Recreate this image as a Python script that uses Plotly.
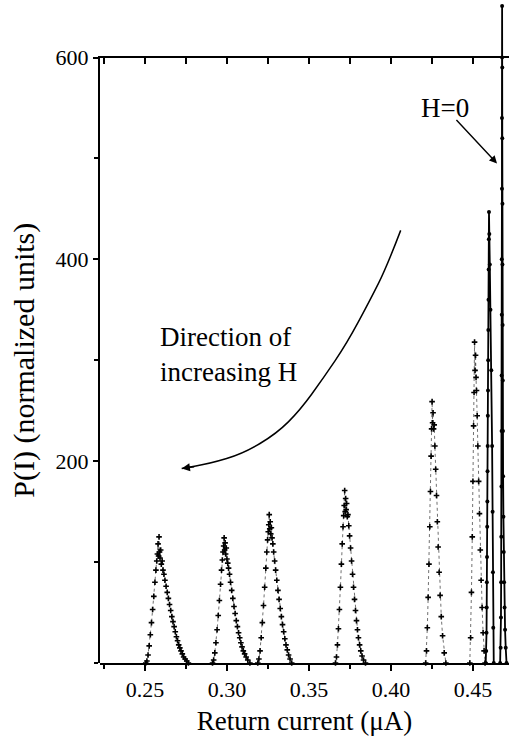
import plotly.graph_objects as go

# ---- data ----
P1_X = [0.2505,0.2512,0.2519,0.2526,0.2533,0.2540,0.2547,0.2554,0.2561,0.2567,0.2572,0.2576,0.2580,0.2583,0.2586,0.2589,0.2592,0.2596,0.2600,0.2605,0.2610,0.2616,0.2622,0.2629,0.2636,0.2643,0.2650,0.2657,0.2664,0.2671,0.2678,0.2685,0.2692,0.2699,0.2706,0.2713,0.2720,0.2728,0.2736,0.2745,0.2755,0.2765]
P1_Y = [0,2,8,17,28,40,53,66,80,92,101,108,118,106,125,110,104,112,98,101,92,88,82,76,70,64,58,52,46,41,36,31,26,22,18,15,12,9,6,4,2,0]

P2_X = [0.2912,0.2919,0.2926,0.2933,0.2940,0.2947,0.2954,0.2961,0.2967,0.2972,0.2976,0.2980,0.2983,0.2986,0.2989,0.2992,0.2996,0.3000,0.3005,0.3010,0.3016,0.3022,0.3029,0.3036,0.3043,0.3050,0.3057,0.3064,0.3071,0.3078,0.3085,0.3092,0.3100,0.3108,0.3117,0.3127,0.3140]
P2_Y = [0,3,10,20,33,47,62,78,92,102,110,116,124,112,119,108,114,103,99,94,88,80,72,64,56,49,42,36,30,25,20,16,12,9,6,3,0]

P3_X = [0.3188,0.3195,0.3202,0.3209,0.3216,0.3223,0.3230,0.3237,0.3243,0.3248,0.3252,0.3255,0.3258,0.3261,0.3264,0.3267,0.3271,0.3275,0.3280,0.3285,0.3291,0.3297,0.3304,0.3311,0.3318,0.3325,0.3332,0.3339,0.3346,0.3353,0.3360,0.3368,0.3376,0.3385,0.3395]
P3_Y = [0,4,12,25,40,57,75,94,110,122,130,137,147,133,140,128,134,124,118,110,101,92,82,72,63,54,46,38,31,24,18,13,8,4,0]

P4_X = [0.3662,0.3668,0.3674,0.3680,0.3686,0.3692,0.3698,0.3703,0.3708,0.3712,0.3715,0.3718,0.3721,0.3724,0.3727,0.3730,0.3734,0.3738,0.3743,0.3748,0.3754,0.3760,0.3766,0.3772,0.3778,0.3784,0.3790,0.3796,0.3802,0.3809,0.3816,0.3824,0.3833,0.3845]
P4_Y = [0,6,18,34,53,75,98,118,135,146,156,171,150,163,152,158,145,147,136,126,114,101,88,75,63,52,42,33,25,18,12,7,3,0]

P5_X = [0.4212,0.4217,0.4222,0.4227,0.4232,0.4237,0.4241,0.4245,0.4248,0.4251,0.4254,0.4257,0.4260,0.4264,0.4268,0.4273,0.4278,0.4283,0.4288,0.4294,0.4300,0.4307,0.4315,0.4325,0.4335]
P5_Y = [0,12,35,65,98,135,170,205,232,259,238,248,232,236,215,192,166,140,115,90,67,46,27,10,0]

P6_X = [0.4481,0.4486,0.4491,0.4496,0.4500,0.4504,0.4507,0.4510,0.4513,0.4516,0.4519,0.4522,0.4526,0.4530,0.4535,0.4540,0.4545,0.4550,0.4556,0.4562,0.4568,0.4574]
P6_Y = [0,25,70,125,180,235,268,318,290,305,283,270,245,215,180,148,112,82,55,30,12,0]

P7_X = [0.4578,0.4581,0.4583,0.4584,0.4585,0.4586,0.4587,0.4588,0.4589,0.4590,0.4591,0.4592,0.4593,0.4594,0.4595,0.4596,0.4597,0.4598,0.4600,0.4603,0.4607,0.4612,0.4617,0.4620,0.4622,0.4624,0.4627]
P7_Y = [0,12,30,55,80,105,135,160,190,215,245,270,300,330,360,390,420,447,425,395,350,290,215,150,90,35,0]

P8_X = [0.4666,0.4669,0.4671,0.4672,0.4673,0.4674,0.4675,0.4675,0.4676,0.4676,0.4677,0.4677,0.4678,0.4678,0.4679,0.4679,0.4680,0.4680,0.4681,0.4682,0.4683,0.4684,0.4686,0.4688,0.4690,0.4693,0.4696,0.4700,0.4705]
P8_Y = [0,15,45,80,125,175,230,285,345,400,470,540,600,651,590,520,455,395,335,280,230,185,145,110,80,55,33,15,0]

# curved "direction" arrow (data units)
ARROW_X = [0.40595,0.39742,0.38723,0.37303,0.35876,0.34455,0.33034,0.30998,0.28967,0.27242]
ARROW_Y = [428.7,392.4,359.4,316.5,282.2,250.5,227.4,207.6,197.7,192.8]

X_TICKS = [0.25, 0.30, 0.35, 0.40, 0.45]
X_TICK_TEXT = ["0.25", "0.30", "0.35", "0.40", "0.45"]
Y_TICKS = [200, 400, 600]
Y_TICK_TEXT = ["200", "400", "600"]
TOP_TICKS = [0.225, 0.25, 0.275, 0.30, 0.325, 0.35, 0.375, 0.40, 0.425, 0.45]

X_RANGE = [0.2226, 0.4720]
Y_MAX_FRAME = 600
Y_MAX_FULL = 655

FONT = "Liberation Serif"

fig = go.Figure()

wide_peaks = [(P1_X, P1_Y), (P2_X, P2_Y), (P3_X, P3_Y), (P4_X, P4_Y), (P5_X, P5_Y), (P6_X, P6_Y)]
for px, py in wide_peaks:
    fig.add_trace(go.Scatter(
        x=px, y=py, mode="lines+markers", xaxis="x", yaxis="y2",
        line=dict(color="#333", width=0.7, dash="dot"),
        marker=dict(symbol="cross-thin", size=4, line=dict(color="black", width=1.6)),
        cliponaxis=False, showlegend=False, hoverinfo="skip"))

for px, py in [(P7_X, P7_Y), (P8_X, P8_Y)]:
    fig.add_trace(go.Scatter(
        x=px, y=py, mode="lines+markers", xaxis="x", yaxis="y2",
        line=dict(color="black", width=1.8),
        marker=dict(symbol="circle", size=4, color="black"),
        cliponaxis=False, showlegend=False, hoverinfo="skip"))

# invisible trace to activate the top axis
fig.add_trace(go.Scatter(x=[0.3], y=[0], xaxis="x2", yaxis="y", mode="markers",
                         marker=dict(opacity=0), showlegend=False, hoverinfo="skip"))

# smooth path through the traced arrow points (quadratic midpoint smoothing)
pts = list(zip(ARROW_X, ARROW_Y))
path = f"M {pts[0][0]},{pts[0][1]}"
for i in range(1, len(pts) - 1):
    mx = (pts[i][0] + pts[i + 1][0]) / 2
    my = (pts[i][1] + pts[i + 1][1]) / 2
    path += f" Q {pts[i][0]},{pts[i][1]} {mx},{my}"
path += f" L {pts[-1][0]},{pts[-1][1]}"
fig.add_shape(type="path", xref="x", yref="y", path=path,
              line=dict(color="black", width=1.5))
fig.add_annotation(x=ARROW_X[-1], y=ARROW_Y[-1], xref="x", yref="y", ax=14, ay=-2, text="",
                   showarrow=True, arrowhead=2, arrowsize=1.1, arrowwidth=1.5, arrowcolor="black")

fig.add_annotation(x=0.2580, y=306, xref="x", yref="y", xanchor="left", yanchor="middle",
                   text="Direction of<br>increasing H", showarrow=False, align="left",
                   font=dict(family=FONT, size=27, color="black"))

fig.add_annotation(x=0.4330, y=550, xref="x", yref="y", text="H=0", showarrow=False,
                   font=dict(family=FONT, size=27, color="black"))
fig.add_annotation(x=0.4647, y=495, xref="x", yref="y", ax=-42, ay=-45, text="",
                   showarrow=True, arrowhead=2, arrowsize=1.1, arrowwidth=1.4, arrowcolor="black")

fig.update_layout(
    width=509, height=736,
    margin=dict(l=100, r=0, t=2, b=73, autoexpand=False),
    paper_bgcolor="white", plot_bgcolor="rgba(0,0,0,0)",
    font=dict(family=FONT, color="black"),
    xaxis=dict(range=X_RANGE, anchor="y", domain=[0, 1], automargin=False,
               showline=True, linecolor="black", linewidth=2,
               ticks="outside", ticklen=6, tickwidth=2, tickcolor="black",
               tickvals=X_TICKS, ticktext=X_TICK_TEXT,
               tickfont=dict(family=FONT, size=22),
               minor=dict(tickvals=TOP_TICKS, ticks="outside", ticklen=4, tickwidth=1.5, tickcolor="black"),
               showgrid=False, zeroline=False,
               title=dict(text="Return current (μA)", font=dict(family=FONT, size=27), standoff=14)),
    xaxis2=dict(range=X_RANGE, overlaying="x", anchor="y", side="top", automargin=False,
                showline=True, linecolor="black", linewidth=2,
                ticks="inside", ticklen=6, tickwidth=1.5, tickcolor="black",
                tickvals=TOP_TICKS, showticklabels=False, showgrid=False, zeroline=False),
    yaxis=dict(range=[0, Y_MAX_FRAME], domain=[0, Y_MAX_FRAME / Y_MAX_FULL], anchor="x", automargin=False,
               showline=True, linecolor="black", linewidth=2,
               ticks="outside", ticklen=5, tickwidth=2, tickcolor="black",
               tickvals=Y_TICKS, ticktext=Y_TICK_TEXT,
               tickfont=dict(family=FONT, size=22),
               minor=dict(dtick=100, tick0=0, ticks="outside", ticklen=4, tickwidth=1.5, tickcolor="black"),
               showgrid=False, zeroline=False,
               title=dict(text="P(I) (normalized units)", font=dict(family=FONT, size=30), standoff=12)),
    yaxis2=dict(range=[0, Y_MAX_FULL], domain=[0, 1], anchor="x", visible=False, automargin=False),
)

fig.write_html("out.html")
